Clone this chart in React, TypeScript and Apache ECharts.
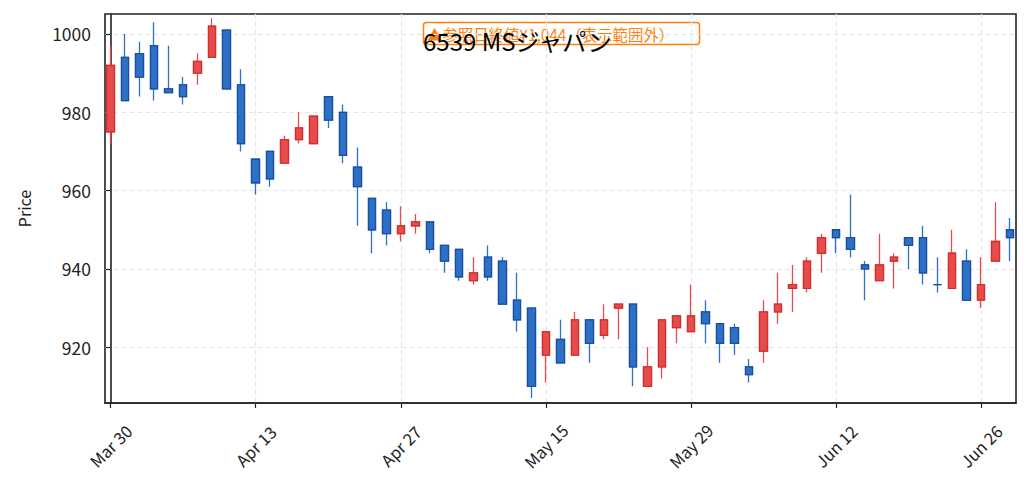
import React, { useEffect, useRef } from "react";
import * as echarts from "echarts";

const dates: string[] = [
  "Mar 30", "Mar 31", "Apr 1", "Apr 2", "Apr 3", "Apr 6", "Apr 7", "Apr 8", "Apr 9", "Apr 10",
  "Apr 13", "Apr 14", "Apr 15", "Apr 16", "Apr 17", "Apr 20", "Apr 21", "Apr 22", "Apr 23", "Apr 24",
  "Apr 27", "Apr 28", "Apr 30", "May 1", "May 7", "May 8", "May 11", "May 12", "May 13", "May 14",
  "May 15", "May 18", "May 19", "May 20", "May 21", "May 22", "May 25", "May 26", "May 27", "May 28",
  "May 29", "Jun 1", "Jun 2", "Jun 3", "Jun 4", "Jun 5", "Jun 8", "Jun 9", "Jun 10", "Jun 11",
  "Jun 12", "Jun 15", "Jun 16", "Jun 17", "Jun 18", "Jun 19", "Jun 22", "Jun 23", "Jun 24", "Jun 25",
  "Jun 26", "Jun 29", "Jun 30",
];

const opens: number[] = [
  975, 994, 995, 997, 986, 987, 990, 994, 1001, 987,
  968, 970, 967, 973, 972, 984, 980, 966, 958, 955,
  949, 951, 952, 946, 945, 937, 943, 942, 932, 930,
  918, 922, 918, 927, 923, 930, 931, 910, 915, 925,
  924, 929, 926, 925, 915, 919, 929, 935, 935, 944,
  950, 948, 941, 937, 942, 948, 948, 936, 935, 942,
  932, 942, 950,
];
const closes: number[] = [
  992, 983, 989, 986, 985, 984, 993, 1002, 986, 972,
  962, 963, 973, 976, 979, 978, 969, 961, 950, 949,
  951, 952, 945, 942, 938, 939, 938, 931, 927, 910,
  924, 916, 927, 921, 927, 931, 915, 915, 927, 928,
  928, 926, 921, 921, 913, 929, 931, 936, 942, 948,
  948, 945, 940, 941, 943, 946, 939, 936, 944, 932,
  936, 947, 948,
];
const lows: number[] = [
  972, 983, 984, 983, 985, 982, 987, 994, 986, 970,
  959, 961, 967, 972, 972, 976, 967, 951, 944, 946,
  947, 949, 944, 939, 937, 936, 937, 931, 924, 907,
  911, 916, 918, 916, 922, 922, 910, 910, 912, 921,
  924, 921, 916, 918, 911, 916, 926, 929, 934, 939,
  944, 943, 932, 937, 935, 940, 936, 934, 935, 932,
  930, 942, 942,
];
const highs: number[] = [
  997, 1000, 998, 1003, 997, 989, 995, 1004, 1001, 991,
  968, 970, 974, 980, 979, 984, 982, 971, 958, 957,
  956, 954, 952, 946, 945, 943, 946, 943, 939, 930,
  924, 927, 929, 927, 931, 931, 931, 920, 927, 928,
  936, 932, 926, 926, 917, 932, 939, 941, 943, 949,
  950, 959, 942, 949, 944, 948, 951, 943, 950, 945,
  943, 957, 953,
];

const yTicks: number[] = [920, 940, 960, 980, 1000];
const xTicks: number[] = [0, 10, 20, 30, 40, 50, 60];

const titleText = "6539 MSジャパン";
const noteText = "▲参照日終値¥1,044（表示範囲外）";

const FONT = "'Noto Sans CJK JP', 'Noto Sans', sans-serif";
const RED = "#e84b4b";
const RED_EDGE = "#cc3232";
const BLUE = "#2d70c6";
const BLUE_EDGE = "#1a4fa0";

export default function App() {
  const ref = useRef<HTMLDivElement>(null);

  useEffect(() => {
    if (!ref.current) return;
    const chart = echarts.init(ref.current, undefined, { renderer: "svg" });

    const full = dates.map((_, i) => [i, opens[i], closes[i], lows[i], highs[i]]);
    const bodies = dates.map((_, i) => [
      i,
      opens[i],
      closes[i],
      Math.min(opens[i], closes[i]),
      Math.max(opens[i], closes[i]),
    ]);

    chart.setOption({
      animation: false,
      title: {
        text: titleText,
        left: 418,
        top: 23,
        z: 20,
        textStyle: { fontFamily: FONT, fontSize: 24, fontWeight: "normal", color: "#000" },
      },
      graphic: [
        {
          type: "group",
          z: 10,
          children: [
            {
              type: "rect",
              shape: { x: 423.5, y: 22.5, width: 276, height: 22, r: 3 },
              style: { fill: "#ffffff", stroke: "#ff7f0e", lineWidth: 1.5 },
            },
            {
              type: "text",
              x: 427,
              y: 34,
              style: {
                text: noteText,
                fill: "#ff7f0e",
                fontSize: 15.4,
                fontFamily: FONT,
                verticalAlign: "middle",
                align: "left",
              },
            },
          ],
        },
      ],
      grid: {
        left: 105,
        top: 14,
        width: 911,
        height: 389,
        show: true,
        borderColor: "#222",
        borderWidth: 1.6,
        backgroundColor: "transparent",
      },
      xAxis: {
        type: "value",
        min: -0.39,
        max: 62.41,
        axisLine: { show: true, lineStyle: { color: "#222", width: 1.6 } },
        axisTick: {
          show: true,
          customValues: xTicks,
          length: 5,
          lineStyle: { color: "#222", width: 1.2 },
        },
        axisLabel: {
          customValues: xTicks,
          rotate: 45,
          align: "center",
          verticalAlign: "middle",
          margin: 43,
          fontSize: 16.5,
          fontFamily: FONT,
          color: "#222",
          formatter: (v: number) => dates[Math.round(v)] ?? "",
        },
        splitLine: {
          show: true,
          lineStyle: { color: "#e6e6e6", width: 1.2, type: [5, 3] },
        },
      },
      yAxis: {
        type: "value",
        min: 905.75,
        max: 1005.1,
        name: "Price",
        nameLocation: "middle",
        nameGap: 73,
        nameTextStyle: { fontFamily: FONT, fontSize: 16, color: "#222" },
        axisLine: { show: true, lineStyle: { color: "#222", width: 1.6 } },
        axisTick: {
          show: true,
          customValues: yTicks,
          length: 5,
          lineStyle: { color: "#222", width: 1.2 },
        },
        axisLabel: {
          customValues: yTicks,
          margin: 14,
          fontSize: 17.5,
          fontFamily: FONT,
          color: "#222",
          formatter: (v: number) => String(v),
        },
        splitLine: {
          show: true,
          lineStyle: { color: "#e6e6e6", width: 1.2, type: [5, 3] },
        },
      },
      series: [
        {
          type: "candlestick",
          data: full,
          encode: { x: 0, y: [1, 2, 3, 4] },
          barWidth: 8,
          itemStyle: {
            color: RED,
            color0: BLUE,
            borderColor: RED,
            borderColor0: BLUE,
            borderWidth: 1.3,
          },
          z: 3,
        },
        {
          type: "candlestick",
          data: bodies,
          encode: { x: 0, y: [1, 2, 3, 4] },
          barWidth: 8,
          itemStyle: {
            color: RED,
            color0: BLUE,
            borderColor: RED_EDGE,
            borderColor0: BLUE_EDGE,
            borderWidth: 1.3,
          },
          z: 4,
        },
      ],
    });

    return () => chart.dispose();
  }, []);

  return (
    <div
      ref={ref}
      style={{ position: "absolute", left: 0, top: 0, width: 1031, height: 492, background: "#fff" }}
    />
  );
}
